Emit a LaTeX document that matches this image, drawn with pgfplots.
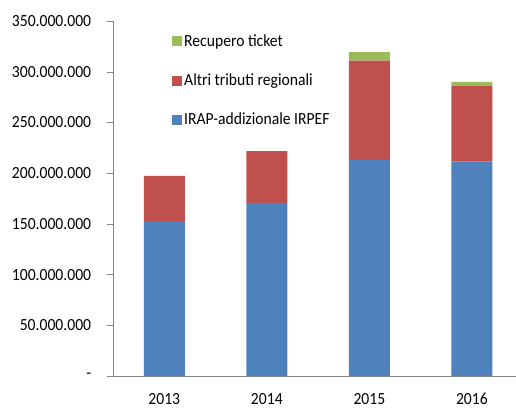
\documentclass[border=0pt]{standalone}
\usepackage{fontspec}
\setmainfont{Carlito}[Numbers=Lining, FakeStretch=0.92]
\usepackage{pgfplots}
\pgfplotsset{compat=1.18}
\definecolor{cblue}{HTML}{4F81BD}
\definecolor{cred}{HTML}{C0504D}
\definecolor{cgreen}{HTML}{9BBB59}
\definecolor{axgray}{HTML}{868686}
\begin{document}
\fontsize{17pt}{20pt}\selectfont
\begin{tikzpicture}
\useasboundingbox (-113pt,-34pt) rectangle (403pt,376pt);
\begin{axis}[
  at={(0,0)}, anchor=south west,
  scale only axis, width=403pt, height=355pt,
  ybar stacked, bar width=41pt,
  xmin=-0.5, xmax=3.43,
  ymin=0, ymax=350000000,
  axis x line*=bottom, axis y line*=left,
  axis line style={axgray},
  xtick={0,1,2,3}, xticklabels={2013,2014,2015,2016},
  x tick style={draw=none},
  extra x ticks={-0.5,0.5,1.5,2.5}, extra x tick labels={},
  extra x tick style={major tick length=6pt, tick align=outside, tick style={draw=axgray}},
  ytick={0,50000000,100000000,150000000,200000000,250000000,300000000,350000000},
  yticklabels={-,50.000.000,100.000.000,150.000.000,200.000.000,250.000.000,300.000.000,350.000.000},
  y tick style={draw=axgray}, major tick length=6pt, tick align=outside,
  xticklabel style={font=\fontsize{17pt}{20pt}\selectfont, anchor=base, yshift=-22pt},
  yticklabel style={font=\fontsize{17pt}{20pt}\selectfont, xshift=-10pt},
  scaled y ticks=false,
  reverse legend,
  legend style={at={(59pt,344pt)}, anchor=north west, draw=none, fill=none,
    font=\fontsize{17pt}{20pt}\selectfont, row sep=21pt, inner sep=0pt,
    cells={anchor=west}},
  legend image code/.code={\fill[#1] (0pt,-5pt) rectangle (10pt,5pt);},
]
\addplot[fill=cblue, draw=none] coordinates {(0,152800000) (1,170600000) (2,213000000) (3,211300000)};
\addplot[fill=cred, draw=none] coordinates {(0,44400000) (1,51200000) (2,97900000) (3,74900000)};
\addplot[fill=cgreen, draw=none] coordinates {(0,0) (1,0) (2,8500000) (3,3900000)};
\legend{IRAP-addizionale IRPEF, Altri tributi regionali, Recupero ticket}
\end{axis}
\end{tikzpicture}
\end{document}
